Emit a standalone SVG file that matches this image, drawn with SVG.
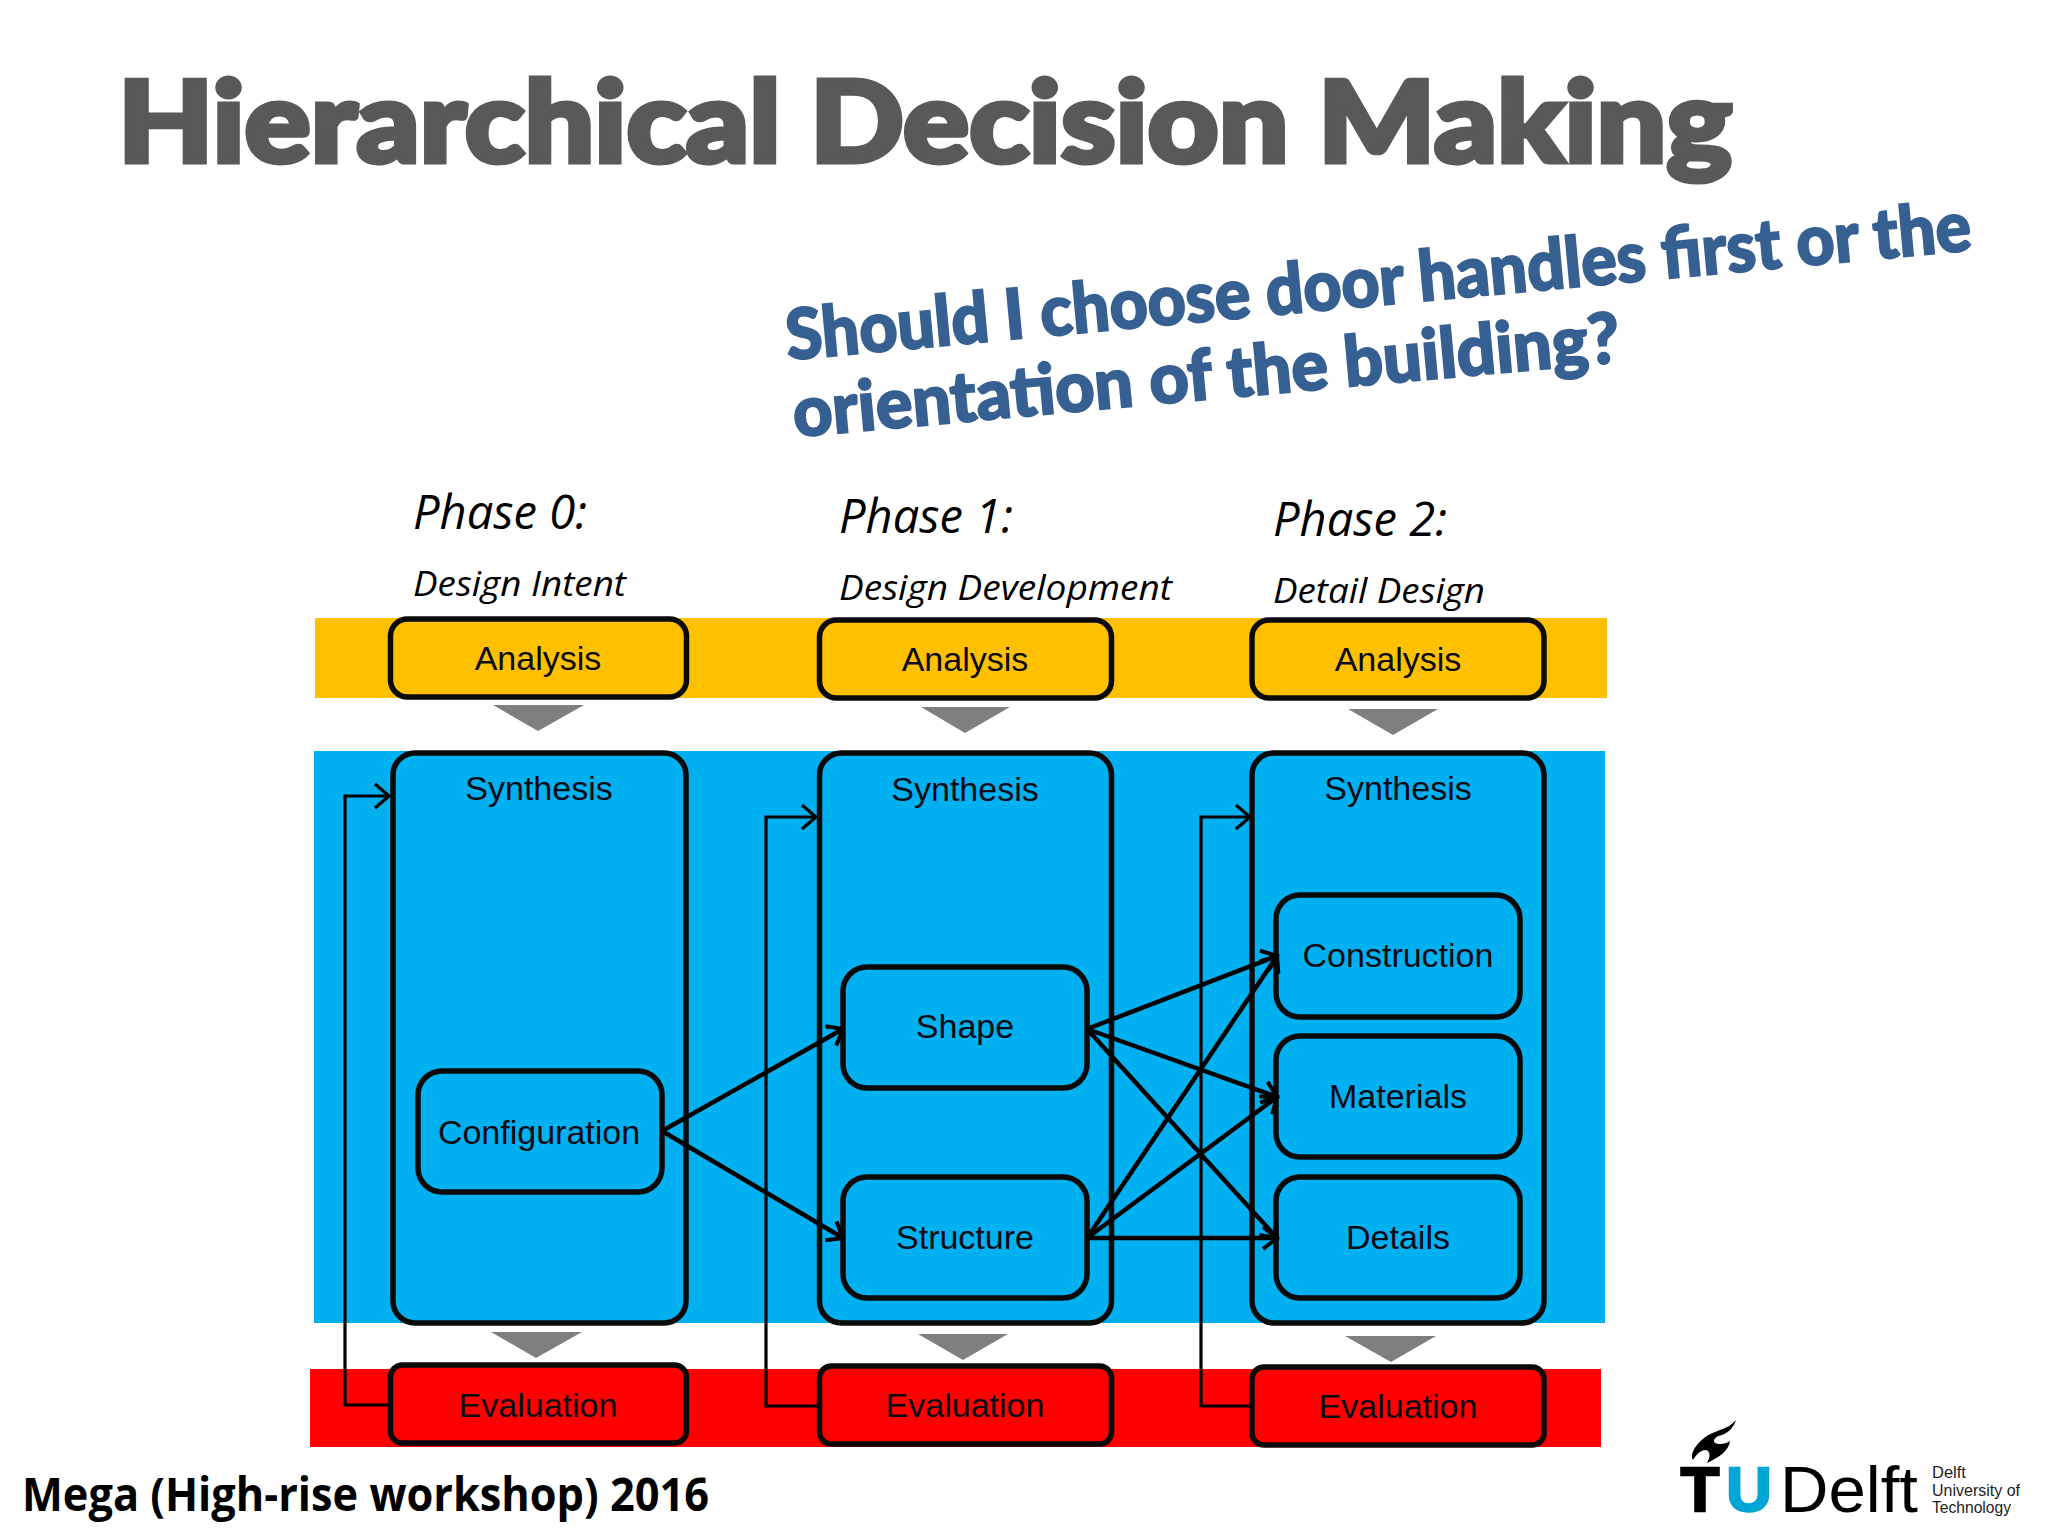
<svg xmlns="http://www.w3.org/2000/svg" width="2048" height="1536" viewBox="0 0 2048 1536">
<style>
.box{stroke:#0a0a0a;stroke-width:5.5}
.o{fill:#ffc000}.b{fill:#00b0f0}.r{fill:#ff0000}
.lbl{font-family:"Liberation Sans",Arial,sans-serif;font-size:34px;fill:#0a0a14;text-anchor:middle}
.ph{font-family:"Open Sans",sans-serif;font-style:italic;font-size:47px;fill:#000}
.sub{font-family:"Open Sans",sans-serif;font-style:italic;font-size:35px;fill:#000}
.tri{fill:#7f7f7f}
.thick{fill:none;stroke:#000;stroke-width:4.5;marker-end:url(#a)}
.thin{fill:none;stroke:#000;stroke-width:3.2}
.q{font-family:"Lato",sans-serif;font-weight:900;font-size:70px;fill:#376092;stroke:#376092;stroke-width:2}
</style>
<defs>
<marker id="a" markerUnits="userSpaceOnUse" markerWidth="30" markerHeight="30" refX="20" refY="15" orient="auto"><path d="M6 4L20 15L6 26" fill="none" stroke="#000" stroke-width="4"/></marker>
<marker id="t" markerUnits="userSpaceOnUse" markerWidth="30" markerHeight="30" refX="20" refY="15" orient="auto"><path d="M6 3L20 15L6 27" fill="none" stroke="#000" stroke-width="3.2"/></marker>
</defs>
<rect width="2048" height="1536" fill="#fff"/>
<text id="title" x="118" y="162" textLength="1614" lengthAdjust="spacingAndGlyphs" font-family="Lato,sans-serif" font-weight="900" font-size="113" fill="#595959" stroke="#595959" stroke-width="5">Hierarchical Decision Making</text>
<g id="question">
<text class="q" x="788" y="360" transform="rotate(-5.3 788 360)" textLength="1190" lengthAdjust="spacingAndGlyphs">Should I choose door handles first or the</text>
<text class="q" x="795" y="437" transform="rotate(-5.2 795 437)" textLength="830" lengthAdjust="spacingAndGlyphs">orientation of the building?</text>
</g>
<g id="phases">
<text class="ph" x="413" y="529" textLength="174" lengthAdjust="spacingAndGlyphs">Phase 0:</text><text class="sub" x="413" y="596" textLength="213" lengthAdjust="spacingAndGlyphs">Design Intent</text>
<text class="ph" x="839" y="533" textLength="174" lengthAdjust="spacingAndGlyphs">Phase 1:</text><text class="sub" x="839" y="600" textLength="333" lengthAdjust="spacingAndGlyphs">Design Development</text>
<text class="ph" x="1273" y="536" textLength="174" lengthAdjust="spacingAndGlyphs">Phase 2:</text><text class="sub" x="1273" y="603" textLength="212" lengthAdjust="spacingAndGlyphs">Detail Design</text>
</g>
<g id="bands">
<rect class="o" x="315" y="618" width="1292" height="80"/>
<rect class="b" x="314" y="751" width="1291" height="572"/>
<rect class="r" x="310" y="1369" width="1291" height="78"/>
</g>
<g id="flow-triangles">
<polygon class="tri" points="493,705 584,705 538,731"/><polygon class="tri" points="921,707 1010,707 965,733"/><polygon class="tri" points="1348,709 1438,709 1393,735"/>
<polygon class="tri" points="491,1332 582,1332 536,1358"/><polygon class="tri" points="918,1334 1008,1334 963,1360"/><polygon class="tri" points="1345,1336 1436,1336 1391,1362"/>
</g>
<g id="n-analysis0"><rect class="box o" x="390.500" y="619" width="296" height="78" rx="17"/><text class="lbl" x="538" y="670">Analysis</text></g>
<g id="n-analysis1"><rect class="box o" x="819.500" y="620" width="292" height="78" rx="17"/><text class="lbl" x="965" y="671">Analysis</text></g>
<g id="n-analysis2"><rect class="box o" x="1252" y="620" width="292" height="78" rx="17"/><text class="lbl" x="1398" y="671">Analysis</text></g>
<g id="n-synthesis0"><rect class="box b" x="393" y="753" width="293" height="570" rx="22"/><text class="lbl" x="539" y="800">Synthesis</text></g>
<g id="n-synthesis1"><rect class="box b" x="819.500" y="753" width="292" height="570" rx="22"/><text class="lbl" x="965" y="801">Synthesis</text></g>
<g id="n-synthesis2"><rect class="box b" x="1252" y="753" width="292" height="570" rx="22"/><text class="lbl" x="1398" y="800">Synthesis</text></g>
<g id="n-configuration"><rect class="box b" x="418" y="1071" width="244" height="121" rx="24"/><text class="lbl" x="539" y="1144">Configuration</text></g>
<g id="n-shape"><rect class="box b" x="843" y="967" width="244" height="121" rx="24"/><text class="lbl" x="965" y="1038">Shape</text></g>
<g id="n-structure"><rect class="box b" x="843" y="1177" width="244" height="121" rx="24"/><text class="lbl" x="965" y="1249">Structure</text></g>
<g id="n-construction"><rect class="box b" x="1276" y="895" width="244" height="122" rx="24"/><text class="lbl" x="1398" y="967">Construction</text></g>
<g id="n-materials"><rect class="box b" x="1276" y="1036" width="244" height="121" rx="24"/><text class="lbl" x="1398" y="1108">Materials</text></g>
<g id="n-details"><rect class="box b" x="1276" y="1177" width="244" height="121" rx="24"/><text class="lbl" x="1398" y="1249">Details</text></g>
<g id="n-evaluation0"><rect class="box r" x="390.500" y="1365" width="296" height="78" rx="12"/><text class="lbl" x="538" y="1417">Evaluation</text></g>
<g id="n-evaluation1"><rect class="box r" x="819.500" y="1366" width="292" height="78" rx="12"/><text class="lbl" x="965" y="1417">Evaluation</text></g>
<g id="n-evaluation2"><rect class="box r" x="1252" y="1367" width="292" height="78" rx="12"/><text class="lbl" x="1398" y="1418">Evaluation</text></g>
<g id="connectors">
<path class="thin" marker-end="url(#t)" d="M390 1405H345V796H389"/>
<path class="thin" marker-end="url(#t)" d="M819 1406H766V817H816"/>
<path class="thin" marker-end="url(#t)" d="M1252 1406H1201V817H1250"/>
<path class="thick" d="M662 1131L843 1029"/>
<path class="thick" d="M662 1131L843 1238"/>
<path class="thick" d="M1087 1029L1277 956"/>
<path class="thick" d="M1087 1029L1277 1097"/>
<path class="thick" d="M1087 1029L1277 1238"/>
<path class="thick" d="M1087 1238L1277 956"/>
<path class="thick" d="M1087 1238L1277 1097"/>
<path class="thick" d="M1087 1238H1277"/>
</g>
<text id="footer" x="22" y="1511" textLength="687" lengthAdjust="spacingAndGlyphs" font-family="Open Sans,sans-serif" font-weight="700" font-size="46" fill="#000">Mega (High-rise workshop) 2016</text>
<g id="logo">
<path d="M1736 1420C1728 1430 1714 1430 1704 1438C1693 1447 1690 1456 1693 1460C1698 1451 1705 1448 1708 1451C1711 1455 1709 1459 1707 1463C1718 1458 1729 1451 1730 1441C1726 1444 1719 1445 1715 1443C1712 1440 1716 1436 1722 1435C1730 1432 1734 1426 1736 1420Z" fill="#000"/>
<text x="1700" y="1511" text-anchor="middle" font-family="Liberation Sans,sans-serif" font-weight="700" font-size="63" fill="#000" stroke="#000" stroke-width="2.500">T</text>
<text x="1749" y="1511" text-anchor="middle" font-family="Liberation Sans,sans-serif" font-weight="700" font-size="63" fill="#00a6d6" stroke="#00a6d6" stroke-width="2.500">U</text>
<text x="1780" y="1512" textLength="138" lengthAdjust="spacingAndGlyphs" font-family="Liberation Sans,sans-serif" font-size="65" fill="#000">Delft</text>
<g font-family="Liberation Sans,sans-serif" font-size="16.500" fill="#222">
<text x="1932" y="1478">Delft</text><text x="1932" y="1496" textLength="88" lengthAdjust="spacingAndGlyphs">University of</text><text x="1932" y="1513" textLength="79" lengthAdjust="spacingAndGlyphs">Technology</text>
</g>
</g>
</svg>
